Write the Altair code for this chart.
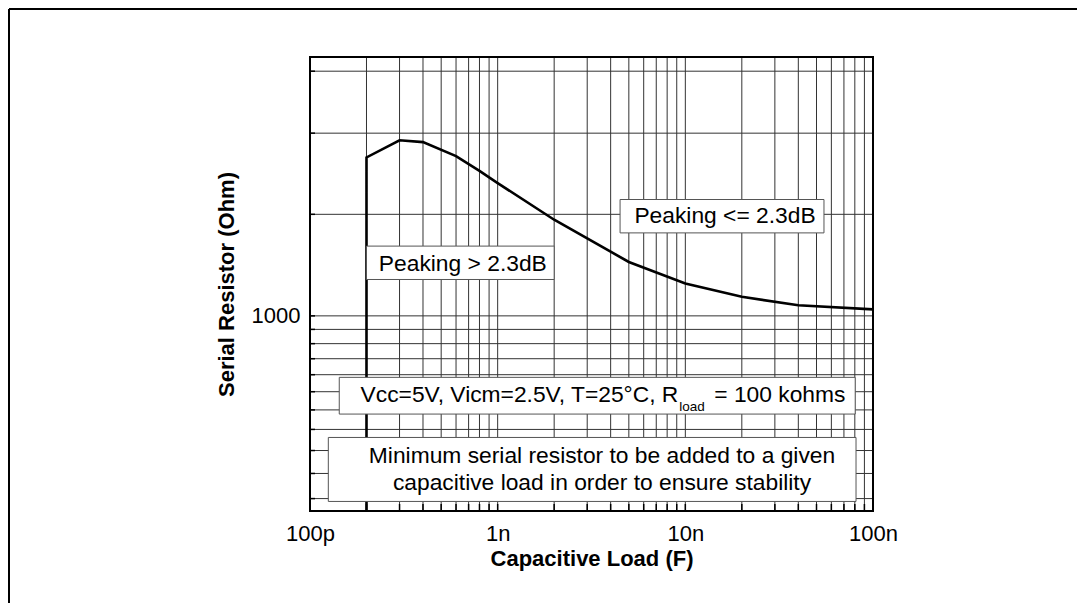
import altair as alt
import pandas as pd

# ---- curve data ----
cap_load = [2e-10, 2e-10, 3e-10, 4e-10, 6e-10, 8e-10, 1e-9, 2e-9, 5e-9, 1e-8, 2e-8, 4e-8, 1e-7]
serial_r = [477, 1824, 1947, 1933, 1833, 1733, 1655, 1440, 1227, 1131, 1075, 1041, 1025]

# ---- grid / tick positions ----
x_grid = [m * 10.0 ** e for e in (-10, -9, -8) for m in range(1, 10)] + [1e-7]
y_grid = [500, 550, 600, 650, 700, 750, 800, 850, 900, 950, 1000, 1470, 2000, 2530]

x_label_values = [1e-10, 1e-9, 1e-8, 1e-7]
x_label_text = ["100p", "1n", "10n", "100n"]
y_label_values = [1000]

x_domain = [1e-10, 1e-7]
y_domain = [477, 2670]

# ---- annotation boxes (data units) ----
box_x1 = [2e-10, 4.49e-9, 1.432e-10, 1.252e-10]
box_x2 = [2e-9, 5.48e-8, 8.04e-8, 8.12e-8]
box_y1 = [1148, 1370, 689, 494.6]
box_y2 = [1303, 1555, 792, 630.5]

peak_text = ["Peaking > 2.3dB", "Peaking <= 2.3dB"]
peak_x = [6.52e-10, 1.627e-8]
peak_y = [1185, 1423]

cond_parts = ["Vcc=5V, Vicm=2.5V, T=25°C, R", "load", "= 100 kohms"]
cond_x = [9.17e-9]
cond_y = [721.9]

note_text = ["Minimum serial resistor to be added to a given\ncapacitive load in order to ensure stability"]
note_x = [3.597e-9]
note_y = [572.6]

FONT = "Liberation Sans"
W, H = 563, 454
PAD_L, PAD_T = 302, 49
SVG_W, SVG_H = 1069, 595

labels_js = "[" + ",".join("'%s'" % t for t in x_label_text) + "]"
x_scale = alt.Scale(type="log", domain=x_domain, nice=False)
y_scale = alt.Scale(type="log", domain=y_domain, nice=False)
x_axis = alt.Axis(values=x_label_values, labelExpr=labels_js + "[round(log(datum.value)/LN10)+10]",
                  grid=False, ticks=False, domain=False, labelFont=FONT, labelFontSize=22,
                  labelColor="black", labelPadding=12, labelFlush=False, labelOverlap=False,
                  title="Capacitive Load (F)", titleFont=FONT, titleFontSize=22,
                  titleFontWeight="bold", titleColor="black", titleBaseline="alphabetic", titleY=54)
y_axis = alt.Axis(values=y_label_values, format="d", grid=False, ticks=False, domain=False,
                  labelFont=FONT, labelFontSize=22, labelColor="black", labelPadding=10,
                  title="Serial Resistor (Ohm)", titleFont=FONT, titleFontSize=22,
                  titleFontWeight="bold", titleColor="black", titleAngle=270,
                  titleBaseline="alphabetic", titleAlign="center", titleX=-77, titleY=227)

def X(f):
    return alt.X(f, type="quantitative", scale=x_scale, axis=x_axis)

def Y(f):
    return alt.Y(f, type="quantitative", scale=y_scale, axis=y_axis)

curve = pd.DataFrame({"c": cap_load, "r": serial_r, "i": list(range(len(cap_load)))})
xg = pd.DataFrame({"v": x_grid})
yg = pd.DataFrame({"v": y_grid})
boxes = pd.DataFrame({"x1": box_x1, "x2": box_x2, "y1": box_y1, "y2": box_y2})
peaks = pd.DataFrame({"t": peak_text, "x": peak_x, "y": peak_y})
cond = pd.DataFrame({"x": cond_x, "y": cond_y})
note = pd.DataFrame({"t": note_text, "x": note_x, "y": note_y})
one = pd.DataFrame({"a": [0]})

# outer figure border (left and top edges only; the rest lies outside the window)
border_left = alt.Chart(one).mark_rule(color="black", strokeWidth=2).encode(
    x=alt.value(-PAD_L + 1), y=alt.value(-PAD_T + 1), y2=alt.value(SVG_H - PAD_T))
border_top = alt.Chart(one).mark_rule(color="black", strokeWidth=2).encode(
    x=alt.value(-PAD_L + 1), x2=alt.value(SVG_W - PAD_L), y=alt.value(-PAD_T + 1))

vgrid = alt.Chart(xg).mark_rule(color="#333", strokeWidth=1).encode(x=X("v"))
hgrid = alt.Chart(yg).mark_rule(color="#333", strokeWidth=1).encode(y=Y("v"))

line = alt.Chart(curve).mark_line(color="black", strokeWidth=2.6).encode(
    x=X("c"), y=Y("r"), order="i:Q")

rects = alt.Chart(boxes).mark_rect(fill="white", stroke="#555", strokeWidth=1).encode(
    x=X("x1"), x2="x2:Q", y=Y("y1"), y2="y2:Q")

peak_lbl = alt.Chart(peaks).mark_text(font=FONT, fontSize=22.8, color="black", align="center",
                                      baseline="alphabetic").encode(x=X("x"), y=Y("y"), text="t:N")

cond_a = alt.Chart(cond).mark_text(font=FONT, fontSize=22.8, color="black", align="right",
                                   baseline="alphabetic").encode(x=X("x"), y=Y("y"), text=alt.value(cond_parts[0]))
cond_b = alt.Chart(cond).mark_text(font=FONT, fontSize=13.5, color="black", align="left",
                                   baseline="alphabetic", dx=1, dy=9).encode(x=X("x"), y=Y("y"), text=alt.value(cond_parts[1]))
cond_c = alt.Chart(cond).mark_text(font=FONT, fontSize=22.8, color="black", align="left",
                                   baseline="alphabetic", dx=36).encode(x=X("x"), y=Y("y"), text=alt.value(cond_parts[2]))

note_lbl = alt.Chart(note).mark_text(font=FONT, fontSize=22.8, color="black", align="center",
                                     baseline="alphabetic", lineBreak="\n", lineHeight=27.3).encode(
    x=X("x"), y=Y("y"), text="t:N")

xticks = alt.Chart(xg).mark_rule(color="black", strokeWidth=1.5).encode(
    x=X("v"), y=alt.value(H), y2=alt.value(H - 7))
yticks = alt.Chart(yg).mark_rule(color="black", strokeWidth=1.5).encode(
    y=Y("v"), x=alt.value(0), x2=alt.value(5))

frame = alt.Chart(one).mark_rect(fill=None, stroke="black", strokeWidth=2).encode(
    x=alt.value(0), x2=alt.value(W), y=alt.value(0), y2=alt.value(H))

chart = alt.layer(border_left, border_top, vgrid, hgrid, line, rects, peak_lbl, cond_a, cond_b,
                  cond_c, note_lbl, xticks, yticks, frame).properties(
    width=W, height=H,
    padding={"left": PAD_L, "top": PAD_T, "right": SVG_W - PAD_L - W, "bottom": SVG_H - PAD_T - H},
    autosize=alt.AutoSizeParams(type="none"),
    background="white",
).configure_view(stroke=None)

chart.save("out.html", embed_options={"renderer": "svg", "actions": False})
